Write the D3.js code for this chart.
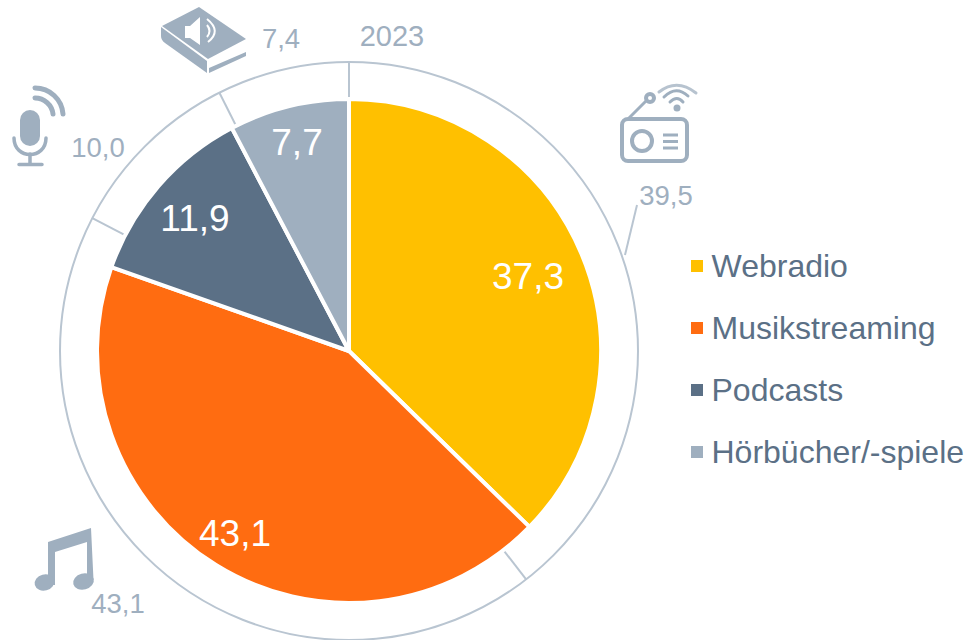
<!DOCTYPE html>
<html><head><meta charset="utf-8">
<script src="https://cdn.jsdelivr.net/npm/d3@7"></script>
<style>html,body{margin:0;padding:0;background:#fff}svg{display:block}text{font-family:"Liberation Sans",Arial,sans-serif}</style>
</head><body><svg id="c" width="966" height="640"></svg>
<script>
const categories = ["Webradio","Musikstreaming","Podcasts","Hörbücher/-spiele"];
const innerValues = [37.3,43.1,11.9,7.7];
const outerValues = [39.5,43.1,10.0,7.4];
const colors = ["#FFC000","#FF6C11","#5B7086","#9FAFBF"];
const yearLabel = "2023";
const fmt = v => v.toFixed(1).replace(".",",");

const svg = d3.select("#c");
const cx=349, cy=351, R=252, RO=289;
const g = svg.append("g").attr("transform",`translate(${cx},${cy})`);
const pie = d3.pie().sort(null).value(d=>d);
const arc = d3.arc().innerRadius(0).outerRadius(R);
const lineCol="#B9C5D1", labCol="#9FAFBF", txt="#5B7086";

// outer ring
const outerArcs = pie(outerValues);
g.append("circle").attr("r",RO).attr("fill","none").attr("stroke",lineCol).attr("stroke-width",2);
const radial=(a,r)=>[r*Math.sin(a),-r*Math.cos(a)];
[0,...outerArcs.slice(0,3).map(d=>d.endAngle)].forEach(a=>{
  const p=radial(a,R-2), q=radial(a,RO);
  g.append("line").attr("x1",p[0]).attr("y1",p[1]).attr("x2",q[0]).attr("y2",q[1]).attr("stroke",lineCol).attr("stroke-width",2);
});
// pie
const arcs = pie(innerValues);
g.selectAll("path.s").data(arcs).join("path").attr("class","s").attr("d",arc)
  .attr("fill",(d,i)=>colors[i]).attr("stroke","#fff").attr("stroke-width",4).attr("stroke-linejoin","round");

// inner labels
const innerPos=[[528,276],[235,533],[195,218],[297,142]];
svg.selectAll("text.in").data(innerValues).join("text").attr("class","in")
  .attr("x",(d,i)=>innerPos[i][0]).attr("y",(d,i)=>innerPos[i][1]).attr("dy","0.35em")
  .attr("text-anchor","middle").attr("font-size",37).attr("fill","#fff").text(fmt);

// outer labels
const outerPos=[[666,195],[118,603],[98,147],[281,38]];
svg.selectAll("text.out").data(outerValues).join("text").attr("class","out")
  .attr("x",(d,i)=>outerPos[i][0]).attr("y",(d,i)=>outerPos[i][1]).attr("dy","0.35em")
  .attr("text-anchor","middle").attr("font-size",27.5).attr("fill",labCol).text(fmt);
svg.append("text").attr("x",392).attr("y",36).attr("dy","0.35em").attr("text-anchor","middle").attr("font-size",29).attr("fill",labCol).text(yearLabel);
// leader for 39,5
svg.append("path").attr("d","M625,255L637,205").attr("stroke",lineCol).attr("stroke-width",2).attr("fill","none");

// legend
const ly=d3.scalePoint().domain(categories).range([266,452]);
const leg=svg.selectAll("g.l").data(categories).join("g").attr("class","l").attr("transform",d=>`translate(691,${ly(d)})`);
leg.append("rect").attr("x",0).attr("y",-6).attr("width",12).attr("height",12).attr("fill",(d,i)=>colors[i]);
leg.append("text").attr("x",20.5).attr("dy","0.35em").attr("font-size",32).attr("fill",txt).text(d=>d);

// icons
const ic="#9FAFBF";
// radio
const radio=svg.append("g").attr("fill","none").attr("stroke",ic).attr("stroke-width",4);
radio.append("rect").attr("x",622).attr("y",119).attr("width",65).attr("height",42).attr("rx",6);
radio.append("circle").attr("cx",642).attr("cy",141).attr("r",10);
radio.append("path").attr("d","M629,118L647,100").attr("stroke-width",3);
radio.append("circle").attr("cx",650).attr("cy",98).attr("r",4);
radio.append("path").attr("d","M663,135H678M663,141.500H678M663,148H678").attr("stroke-width",3);
const wifi=svg.append("g").attr("fill","none").attr("stroke",ic).attr("stroke-linecap","round");
wifi.append("path").attr("d","M659,92Q677,78 696,93").attr("stroke-width",3).attr("opacity",.75);
wifi.append("path").attr("d","M664,97Q676,85 688,96").attr("stroke-width",3);
wifi.append("path").attr("d","M670,102Q677,95 683,102").attr("stroke-width",3);
svg.append("circle").attr("cx",677).attr("cy",108).attr("r",3.5).attr("fill",ic);
// mic
svg.append("rect").attr("x",20).attr("y",110).attr("width",20).attr("height",36).attr("rx",10).attr("fill",ic);
const mic=svg.append("g").attr("fill","none").attr("stroke",ic).attr("stroke-width",3.500).attr("stroke-linecap","round");
mic.append("path").attr("d","M14,138C14,160 46,160 46,138");
mic.append("path").attr("d","M30,154V164M19,164.500H42");
mic.append("path").attr("d","M35,98A18,18 0 0 1 53,114").attr("stroke-width",5);
mic.append("path").attr("d","M35,88A28,28 0 0 1 63,114").attr("stroke-width",5);
// book
svg.append("path").attr("fill",ic).attr("d","M199,7L246,39L208,59L162,26Z");
svg.append("path").attr("fill",ic).attr("d","M161,27L207,61V73L165,43Q161,40 161,36Z");
svg.append("path").attr("fill",ic).attr("d","M209,68L246,52V56L209,73Z");
svg.append("path").attr("fill","#fff").attr("d","M185,26H190L200,17V45L190,38H185Z");
svg.append("path").attr("fill","none").attr("stroke","#fff").attr("stroke-width",2).attr("d","M207,25Q212,31 207,37M207,19Q222,31 208,42");
// note
svg.append("path").attr("fill",ic).attr("d","M48,542L91,528L93.500,580L87,580V542L55,552V585L48,585Z");
svg.append("ellipse").attr("cx",44.5).attr("cy",582.5).attr("rx",10).attr("ry",8).attr("transform","rotate(-15 44.5 582.5)").attr("fill",ic);
svg.append("ellipse").attr("cx",83.5).attr("cy",581.5).attr("rx",10.500).attr("ry",8).attr("transform","rotate(-15 83.5 581.5)").attr("fill",ic);
</script></body></html>
